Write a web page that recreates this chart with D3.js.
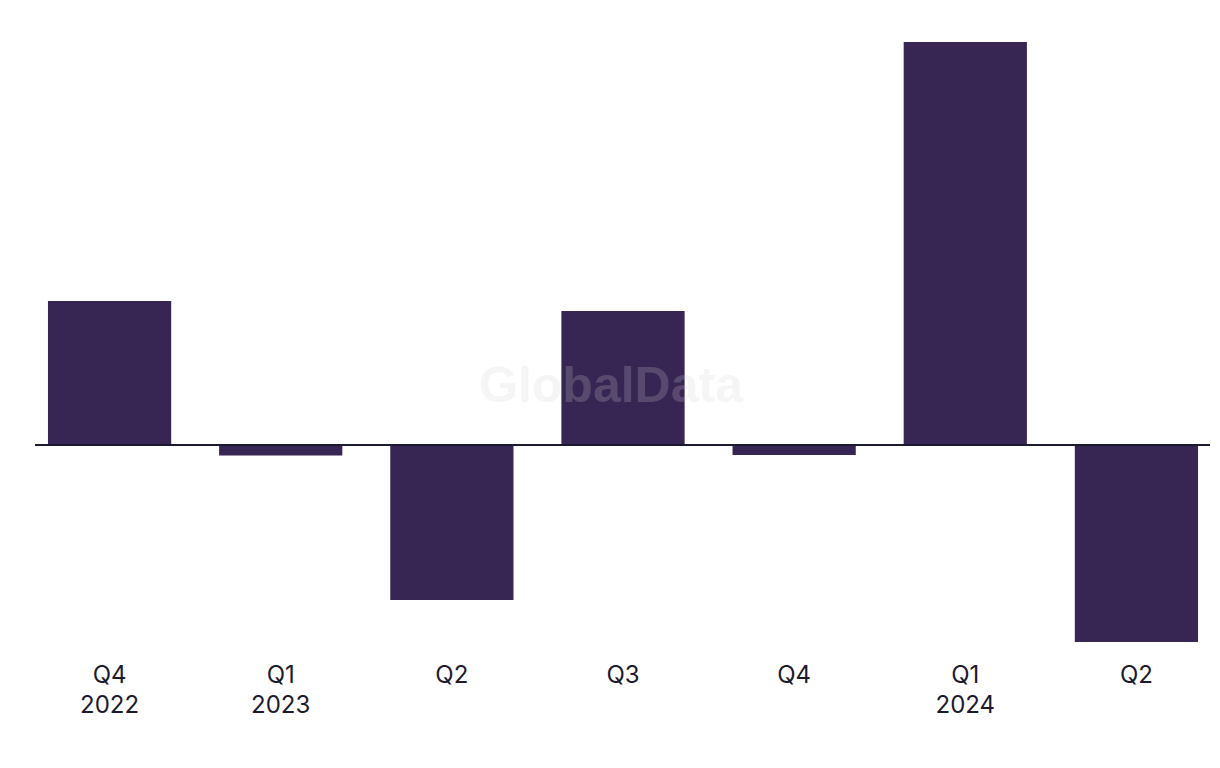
<!DOCTYPE html>
<html>
<head>
<meta charset="utf-8">
<script src="https://cdn.jsdelivr.net/npm/d3@7"></script>
<style>
  html, body { margin: 0; padding: 0; background: #ffffff; }
  svg { display: block; }
</style>
</head>
<body>
<svg id="chart" width="1220" height="768"></svg>
<script>
const quarters = ["Q4", "Q1", "Q2", "Q3", "Q4", "Q1", "Q2"];
const years = ["2022", "2023", "", "", "", "2024", ""];
const values = [14.3, -1.15, -15.6, 13.3, -1.1, 40.2, -19.8];

const categories = quarters.map((q, i) => i);

const svg = d3.select("#chart");

const x = d3.scaleBand()
  .domain(categories)
  .range([24, 1222])
  .paddingInner(0.28)
  .paddingOuter(0.14);

const y = d3.scaleLinear()
  .domain([-19.8, 40.2])
  .range([642, 42]);

const barColor = "#372553";

svg.append("g")
  .selectAll("rect")
  .data(values)
  .join("rect")
  .attr("x", (d, i) => x(i))
  .attr("width", x.bandwidth())
  .attr("y", d => d >= 0 ? y(d) : y(0))
  .attr("height", d => Math.abs(y(d) - y(0)))
  .attr("fill", barColor);

// zero line
svg.append("line")
  .attr("x1", 35).attr("x2", 1210)
  .attr("y1", y(0) + 1).attr("y2", y(0) + 1)
  .attr("stroke", "#1b1a2e")
  .attr("stroke-width", 2);

// watermark
svg.append("text")
  .attr("x", 611)
  .attr("y", 402)
  .attr("text-anchor", "middle")
  .attr("font-family", "Liberation Sans, Arial, sans-serif")
  .attr("font-weight", "bold")
  .attr("font-size", 50)
  .attr("fill", "#d2d2d2")
  .attr("fill-opacity", 0.22)
  .text("GlobalData");

// x labels
const labels = svg.append("g")
  .attr("font-family", "Inter, 'Liberation Sans', sans-serif")
  .attr("font-size", 24)
  .attr("fill", "#1b1a2e")
  .attr("text-anchor", "middle");

labels.selectAll("text.q")
  .data(quarters)
  .join("text")
  .attr("class", "q")
  .attr("x", (d, i) => x(i) + x.bandwidth() / 2)
  .attr("y", 683)
  .text(d => d);

labels.selectAll("text.yr")
  .data(years)
  .join("text")
  .attr("class", "yr")
  .attr("x", (d, i) => x(i) + x.bandwidth() / 2)
  .attr("y", 713)
  .text(d => d);
</script>
</body>
</html>
